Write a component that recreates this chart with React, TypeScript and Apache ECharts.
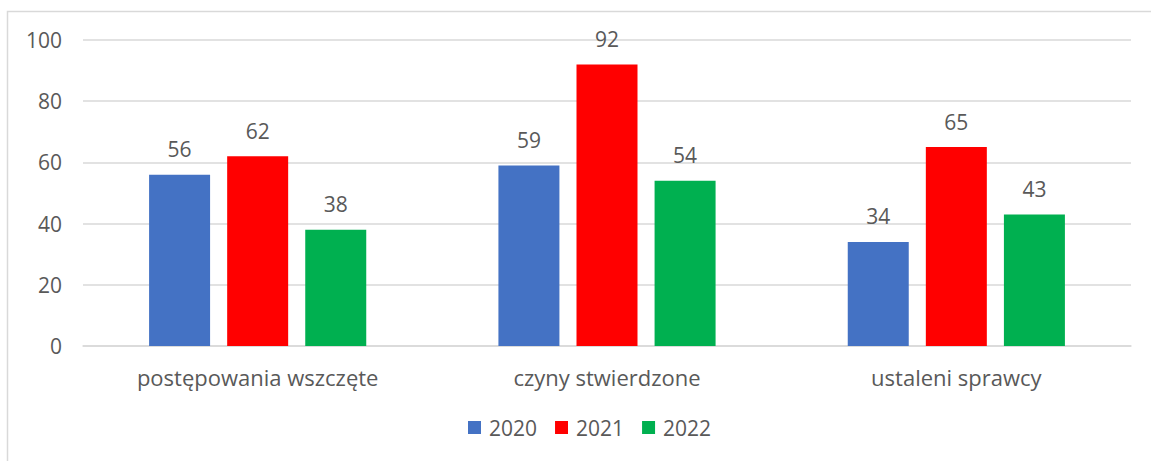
import React, { useEffect, useRef } from "react";
import * as echarts from "echarts";

const categories = ["postępowania wszczęte", "czyny stwierdzone", "ustaleni sprawcy"];
const years = ["2020", "2021", "2022"];
const values2020 = [56, 59, 34];
const values2021 = [62, 92, 65];
const values2022 = [38, 54, 43];
const colors = ["#4472C4", "#FF0000", "#00B050"];

const FONT = "'Open Sans', Lato, sans-serif";
const TEXT = "#595959";

export default function App() {
  const ref = useRef<HTMLDivElement>(null);
  useEffect(() => {
    if (!ref.current) return;
    const chart = echarts.init(ref.current, undefined, { renderer: "svg" });
    const seriesData = [values2020, values2021, values2022];
    chart.setOption({
      animation: false,
      textStyle: { fontFamily: FONT },
      graphic: [
        {
          type: "rect",
          shape: { x: 7.5, y: 11.5, width: 1160, height: 470 },
          style: { fill: "none", stroke: "#d9d9d9", lineWidth: 1.5 },
          silent: true,
        },
      ],
      grid: { left: 83, right: 20, top: 40, bottom: 115, containLabel: false },
      legend: {
        data: years,
        left: 468,
        top: 417,
        padding: 0,
        itemWidth: 13,
        itemHeight: 13,
        itemGap: 18,
        icon: "rect",
        textStyle: { color: TEXT, fontSize: 21, fontFamily: FONT, padding: [0, 0, 0, 3] },
      },
      xAxis: {
        type: "category",
        data: categories,
        axisLine: { show: true, lineStyle: { color: "#d9d9d9", width: 1.5 } },
        axisTick: { show: false },
        axisLabel: { color: TEXT, fontSize: 22, margin: 20, fontFamily: FONT },
      },
      yAxis: {
        type: "value",
        min: 0,
        max: 100,
        interval: 20,
        axisLine: { show: false },
        axisTick: { show: false },
        splitLine: { lineStyle: { color: "#d9d9d9", width: 1.5 } },
        axisLabel: { color: TEXT, fontSize: 21, margin: 21, fontFamily: FONT },
      },
      series: years.map((y, i) => ({
        name: y,
        type: "bar",
        data: seriesData[i],
        barWidth: 61,
        barGap: "28%",
        itemStyle: { color: colors[i] },
        label: {
          show: true,
          position: "top",
          distance: 15,
          color: TEXT,
          fontSize: 21,
          fontFamily: FONT,
        },
      })),
    });
    return () => chart.dispose();
  }, []);
  return (
    <div
      ref={ref}
      style={{ position: "absolute", left: 0, top: 0, width: 1151, height: 461, background: "#fff" }}
    />
  );
}
